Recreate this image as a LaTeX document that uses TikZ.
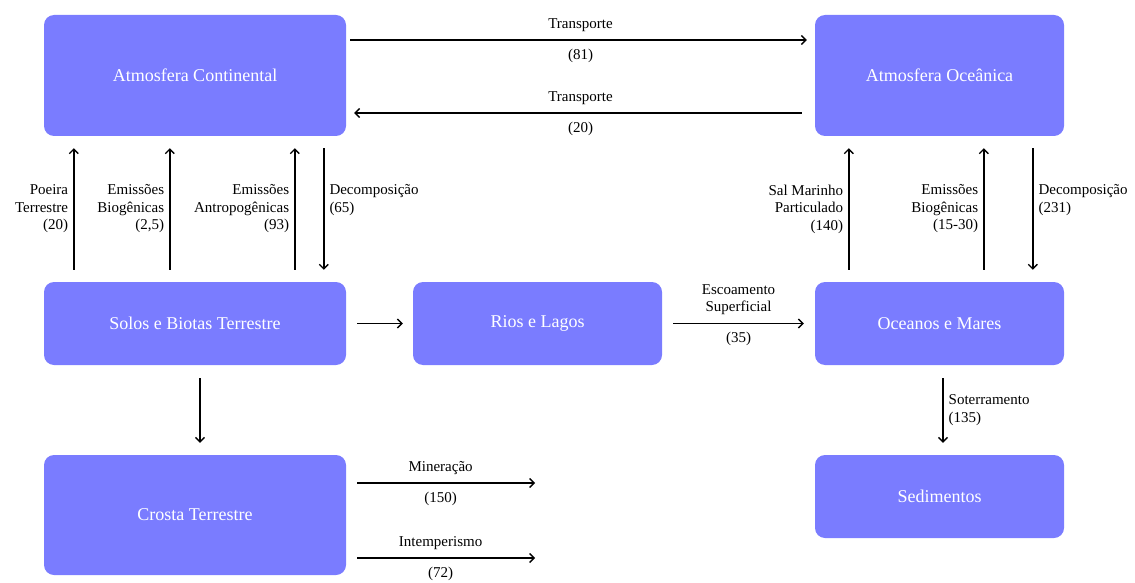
\documentclass[tikz,border=0pt]{standalone}
\usepackage{fontspec}
\setmainfont{Liberation Serif}
\usetikzlibrary{arrows.meta}

\definecolor{caixa}{RGB}{122,124,255}

\tikzset{
  caixa/.style={fill=caixa, rounded corners=10pt, text=white, inner sep=0pt,
    font=\fontsize{18}{21}\selectfont},
  fluxo/.style={-{Straight Barb[length=4.5pt,width=9pt]}, line width=1.4pt},
  rot/.style={font=\fontsize{15}{17.5}\selectfont, inner sep=1pt}
}

\begin{document}
\begin{tikzpicture}[x=1pt,y=-1pt]
	\useasboundingbox (0,0) rectangle (1135,583);
	% caixas
	\node[caixa, minimum width=302, minimum height=121] (atmc) at (195,75.5) {Atmosfera Continental};
	\node[caixa, minimum width=249, minimum height=121] (atmo) at (939.5,75.5) {Atmosfera Oceânica};
	\node[caixa, minimum width=302, minimum height=83] (solos) at (195,323.5) {Solos e Biotas Terrestre};
	\node[caixa, minimum width=249, minimum height=83] (rios) at (537.5,323.5) {Rios e Lagos};
	\node[caixa, minimum width=249, minimum height=83] (oceanos) at (939.5,323.5) {Oceanos e Mares};
	\node[caixa, minimum width=302, minimum height=120] (crosta) at (195,515) {Crosta Terrestre};
	\node[caixa, minimum width=249, minimum height=83] (sed) at (939.5,496.5) {Sedimentos};
	\coordinate (min) at (535,483);
	\coordinate (intemp) at (535,558);

	% transporte entre atmosferas
	\draw[fluxo, shorten <=4pt, shorten >=8pt] ([yshift=35.5pt]atmc.east) -- ([yshift=35.5pt]atmo.west)
		node[rot, midway, above=7pt] {Transporte}
		node[rot, midway, below=7pt] {(81)};
	\draw[fluxo, shorten <=13pt, shorten >=8pt] ([yshift=-37.5pt]atmo.west) -- ([yshift=-37.5pt]atmc.east)
		node[rot, midway, above=7pt] {Transporte}
		node[rot, midway, below=7pt] {(20)};

	% solos <-> atmosfera continental
	\draw[fluxo, shorten <=12pt, shorten >=12pt] ([xshift=30pt]solos.north west) -- ([xshift=30pt]atmc.south west)
		node[rot, midway, left=4pt, align=right] {Poeira\\Terrestre\\(20)};
	\draw[fluxo, shorten <=12pt, shorten >=12pt] ([xshift=126pt]solos.north west) -- ([xshift=126pt]atmc.south west)
		node[rot, midway, left=4pt, align=right] {Emissões\\Biogênicas\\(2,5)};
	\draw[fluxo, shorten <=12pt, shorten >=12pt] ([xshift=251pt]solos.north west) -- ([xshift=251pt]atmc.south west)
		node[rot, midway, left=4pt, align=right] {Emissões\\Antropogênicas\\(93)};
	\draw[fluxo, shorten <=12pt, shorten >=12pt] ([xshift=280pt]atmc.south west) -- ([xshift=280pt]solos.north west)
		node[rot, pos=0.44, right=4pt, align=left] {Decomposição\\(65)};

	% oceanos <-> atmosfera oceanica
	\draw[fluxo, shorten <=12pt, shorten >=12pt] ([xshift=34pt]oceanos.north west) -- ([xshift=34pt]atmo.south west)
		node[rot, midway, left=4pt, align=right] {Sal Marinho\\Particulado\\(140)};
	\draw[fluxo, shorten <=12pt, shorten >=12pt] ([xshift=169pt]oceanos.north west) -- ([xshift=169pt]atmo.south west)
		node[rot, midway, left=4pt, align=right] {Emissões\\Biogênicas\\(15-30)};
	\draw[fluxo, shorten <=12pt, shorten >=12pt] ([xshift=218pt]atmo.south west) -- ([xshift=218pt]oceanos.north west)
		node[rot, pos=0.44, right=4pt, align=left] {Decomposição\\(231)};

	% fluxos horizontais
	\draw[fluxo, shorten <=11pt, shorten >=10pt] (solos) -- (rios);
	\draw[fluxo, shorten <=11pt, shorten >=11pt] (rios) -- (oceanos)
		node[rot, midway, above=7pt, align=center] {Escoamento\\Superficial}
		node[rot, midway, below=7pt] {(35)};

	% fluxos verticais
	\draw[fluxo, shorten <=13pt, shorten >=12pt] ([xshift=5pt]solos.south) -- ([xshift=5pt]crosta.north);
	\draw[fluxo, shorten <=13pt, shorten >=12pt] ([xshift=3.5pt]oceanos.south) -- ([xshift=3.5pt]sed.north)
		node[rot, midway, right=4pt, align=left] {Soterramento\\(135)};

	% saidas da crosta
	\draw[fluxo, shorten <=11pt] ([yshift=32pt]crosta.east) -- (min)
		node[rot, midway, above=7pt] {Mineração}
		node[rot, midway, below=7pt] {(150)};
	\draw[fluxo, shorten <=11pt] ([yshift=-43pt]crosta.east) -- (intemp)
		node[rot, midway, above=7pt] {Intemperismo}
		node[rot, midway, below=7pt] {(72)};
\end{tikzpicture}
\end{document}
